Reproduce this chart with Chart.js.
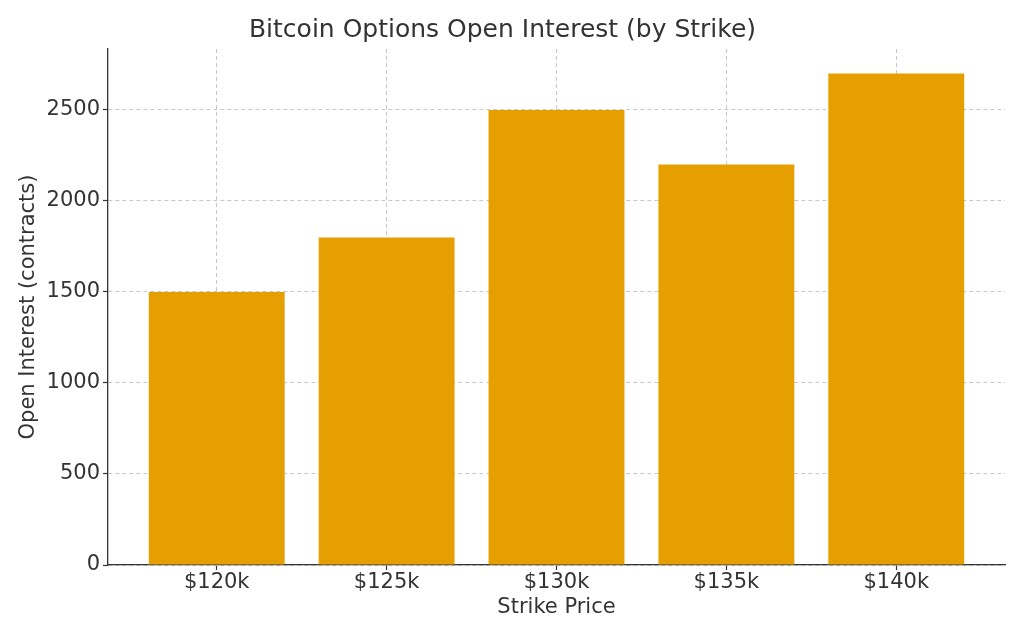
<!DOCTYPE html>
<html>
<head>
<meta charset="utf-8">
<script src="https://cdn.jsdelivr.net/npm/chart.js@4/dist/chart.umd.min.js"></script>
<style>
  html, body { margin: 0; padding: 0; background: #fff; }
  #wrap { width: 1024px; height: 640px; }
</style>
</head>
<body>
<div id="wrap"><canvas id="c" width="1024" height="640"></canvas></div>
<script>
// data
var strikes = ['$120k', '$125k', '$130k', '$135k', '$140k'];
var openInterest = [1500, 1800, 2500, 2200, 2700];
var yTicks = [0, 500, 1000, 1500, 2000, 2500];

var textColor = '#333333';
var gridColor = '#c8c8c8';

var points = openInterest.map(function (v, i) { return { x: i, y: v }; });

var ctx = document.getElementById('c').getContext('2d');
var chart = new Chart(ctx, {
  type: 'bar',
  data: {
    datasets: [{
      label: 'Open Interest',
      data: points,
      backgroundColor: '#E69F00',
      borderWidth: 0,
      barPercentage: 1,
      categoryPercentage: 0.8
    }]
  },
  options: {
    responsive: false,
    animation: false,
    layout: { padding: { left: 0, right: 19, top: 0, bottom: 0 } },
    plugins: {
      legend: { display: false },
      tooltip: { enabled: false },
      title: {
        display: true,
        text: 'Bitcoin Options Open Interest (by Strike)',
        color: textColor,
        font: { family: 'DejaVu Sans', size: 25, weight: 'normal' },
        padding: { top: 15, bottom: 4 }
      }
    },
    scales: {
      x: {
        type: 'linear',
        min: -0.64,
        max: 4.64,
        offset: false,
        z: 1,
        afterBuildTicks: function (s) {
          s.ticks = strikes.map(function (_, i) { return { value: i }; });
        },
        afterFit: function (s) { s.height = 75; },
        ticks: {
          color: textColor,
          font: { family: 'DejaVu Sans', size: 21 },
          padding: 0,
          maxRotation: 0,
          callback: function (v) { return strikes[v]; }
        },
        grid: {
          offset: false,
          color: gridColor,
          lineWidth: 1,
          tickLength: 5,
          tickColor: textColor,
          tickBorderDash: [],
          tickWidth: 1.2
        },
        border: { display: true, color: textColor, width: 1.3, dash: [4, 3] },
        title: {
          display: true,
          text: 'Strike Price',
          color: textColor,
          font: { family: 'DejaVu Sans', size: 21 },
          padding: { top: 0, bottom: 20 }
        }
      },
      y: {
        min: 0,
        max: 2835,
        z: 1,
        afterBuildTicks: function (s) {
          s.ticks = yTicks.map(function (v) { return { value: v }; });
        },
        afterFit: function (s) { s.width = 108; },
        ticks: {
          color: textColor,
          font: { family: 'DejaVu Sans', size: 21 },
          padding: 3,
          callback: function (v) { return String(v); }
        },
        grid: {
          color: gridColor,
          lineWidth: 1,
          tickLength: 5,
          tickColor: textColor,
          tickBorderDash: [],
          tickWidth: 1.2
        },
        border: { display: true, color: textColor, width: 1.3, dash: [4, 3] },
        title: {
          display: true,
          text: 'Open Interest (contracts)',
          color: textColor,
          font: { family: 'DejaVu Sans', size: 21 },
          padding: { top: 16, bottom: 0 }
        }
      }
    }
  }
});
</script>
</body>
</html>
